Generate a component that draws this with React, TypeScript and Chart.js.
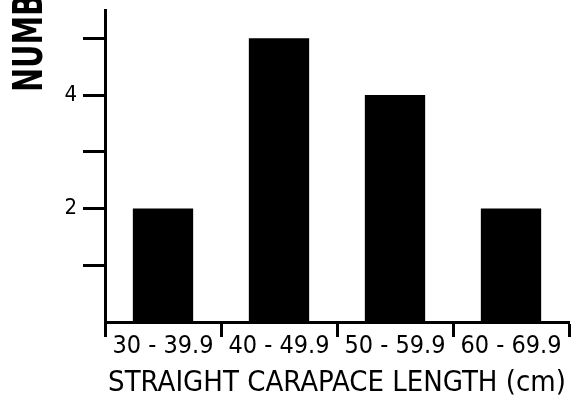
import React, { useEffect, useRef } from "react";
import { Chart, registerables } from "chart.js";

Chart.register(...registerables);

const categories = ["30 - 39.9", "40 - 49.9", "50 - 59.9", "60 - 69.9"];
const counts = [2, 5, 4, 2];
const yLabeled = [2, 4];
const xTitle = "STRAIGHT CARAPACE LENGTH (cm)";
const yTitle = "NUMB";

const FONT = "'DejaVu Sans Condensed', 'DejaVu Sans', sans-serif";

const yTitlePlugin = {
  id: "yTitlePlugin",
  afterDraw(chart: any) {
    const { ctx, chartArea } = chart;
    ctx.save();
    ctx.translate(chartArea.left - 63, chartArea.top + 82);
    ctx.rotate(-Math.PI / 2);
    ctx.scale(0.8, 1);
    ctx.fillStyle = "#000";
    ctx.font = `bold 40px ${FONT}`;
    ctx.textAlign = "left";
    ctx.textBaseline = "alphabetic";
    ctx.fillText(yTitle, 0, 0);
    ctx.restore();
  },
};

export default function App() {
  const ref = useRef<HTMLCanvasElement | null>(null);
  useEffect(() => {
    if (!ref.current) return;
    const chart = new Chart(ref.current, {
      type: "bar",
      data: {
        labels: categories,
        datasets: [
          {
            data: counts,
            backgroundColor: "#000",
            borderWidth: 0,
            categoryPercentage: 1,
            barPercentage: 0.52,
          },
        ],
      },
      options: {
        animation: false,
        responsive: true,
        maintainAspectRatio: false,
        layout: { padding: { top: 10, right: 3, left: 0, bottom: 0 } },
        plugins: { legend: { display: false }, tooltip: { enabled: false } },
        scales: {
          x: {
            type: "category",
            border: { display: true, color: "#000", width: 3 },
            grid: {
              offset: true,
              drawOnChartArea: false,
              drawTicks: true,
              tickLength: 15,
              tickWidth: 3,
              color: "#000",
            },
            ticks: {
              color: "#000",
              padding: -6,
              maxRotation: 0,
              autoSkip: false,
              font: { family: FONT, size: 25 },
            },
            title: {
              display: true,
              text: xTitle,
              color: "#000",
              font: { family: FONT, size: 29 },
              padding: { top: 0, bottom: 1 },
            },
            afterFit: (s: any) => {
              s.height = 80;
              s.paddingLeft = 0;
              s.paddingRight = 0;
            },
          },
          y: {
            min: 0,
            max: 5.5,
            border: { display: true, color: "#000", width: 3 },
            grid: {
              drawOnChartArea: false,
              drawTicks: true,
              tickLength: 22,
              tickWidth: 3,
              color: "#000",
            },
            ticks: {
              stepSize: 1,
              color: "#000",
              padding: 6,
              font: { family: FONT, size: 22 },
              callback: (v: any) => (yLabeled.includes(Number(v)) ? String(v) : ""),
            },
            afterBuildTicks: (axis: any) => {
              axis.ticks = axis.ticks.filter(
                (t: any) => Number.isInteger(t.value) && t.value > 0
              );
            },
            afterFit: (s: any) => {
              s.width = 105;
              s.paddingTop = 0;
              s.paddingBottom = 0;
            },
          },
        },
      },
      plugins: [yTitlePlugin],
    });
    return () => chart.destroy();
  }, []);
  return (
    <div style={{ position: "fixed", left: 0, top: 0, width: 572, height: 402, background: "#fff" }}>
      <canvas ref={ref} />
    </div>
  );
}
